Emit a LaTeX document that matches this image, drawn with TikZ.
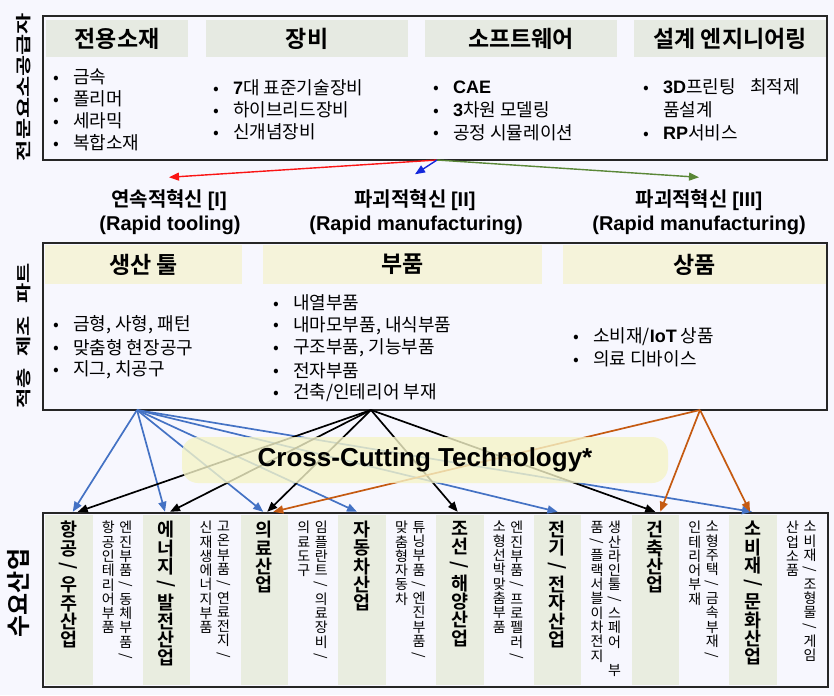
\documentclass[tikz,border=0pt]{standalone}
\usepackage{fontspec}
\setmainfont{Noto Sans CJK KR}[BoldFont={Noto Sans CJK KR Bold}]
\newfontfamily\latinfont{Liberation Sans}
\usepackage{tikz}
\usetikzlibrary{arrows.meta,calc}

\definecolor{pagebg}{RGB}{247,247,254}
\definecolor{hdrgray}{RGB}{230,234,226}
\definecolor{hdryellow}{RGB}{245,243,218}
\definecolor{colgray}{RGB}{233,237,224}
\definecolor{bandyellow}{RGB}{245,244,200}
\definecolor{arrblue}{RGB}{68,114,196}
\definecolor{arrorange}{RGB}{197,90,17}
\definecolor{arrgreen}{RGB}{90,135,55}
\definecolor{arrred}{RGB}{250,20,20}
\definecolor{arrdblue}{RGB}{20,40,220}

\newcommand{\lat}[1]{{\latinfont\bfseries #1}}
\newcommand{\itm}[1]{\makebox[20pt][l]{\raisebox{0.5pt}{\fontsize{17}{17}\selectfont •}}#1}
% stacked (vertical) writing
\newcommand{\vchar}[1]{\hbox to 1.1em{\hss\ifx/#1\raisebox{0.08em}{\rotatebox[origin=c]{-90}{/}}\else\ifx~#1\else#1\fi\fi\hss}}
\def\vcharloop#1{\ifx\relax#1\else\vchar{#1}\expandafter\vcharloop\fi}
\newcommand{\vtext}[2]{\vbox{\baselineskip=#1\lineskiplimit=-50pt\relax\expandafter\vcharloop#2\relax}}

\begin{document}
\begin{tikzpicture}[x=1pt,y=-1pt,
    box/.style={draw=black!85, line width=1.8pt},
    hdrA/.style={fill=hdrgray, inner sep=0pt, minimum height=37pt, font=\bfseries\fontsize{23}{26}\selectfont},
    hdrB/.style={fill=hdryellow, inner sep=0pt, minimum height=39pt, font=\bfseries\fontsize{23}{26}\selectfont},
    item/.style={anchor=west, inner sep=0pt, font=\fontsize{18}{22}\selectfont},
    side/.style={rotate=90, inner sep=0pt, font=\bfseries\fontsize{23}{26}\selectfont},
    innov/.style={inner sep=0pt, font=\bfseries\fontsize{20}{24}\selectfont},
    conn/.style={line width=1.7pt, -{Triangle[length=10pt,width=8pt]}},
    maincol/.style={fill=colgray, inner sep=0pt, minimum width=47.5pt, minimum height=170pt},
    maintxt/.style={anchor=north, inner sep=0pt, font=\bfseries\fontsize{18.5}{18.5}\selectfont},
    subtxt/.style={anchor=north, inner sep=0pt, font=\fontsize{14}{14}\selectfont},
    band/.style={rounded corners=16pt, fill=bandyellow, fill opacity=0.8, text opacity=1,
      minimum width=486pt, minimum height=46pt, font=\latinfont\bfseries\fontsize{26}{30}\selectfont}
]
\useasboundingbox (0,0) rectangle (834,695);
\fill[pagebg] (0,0) rectangle (834,695);

% row titles
\node[side] (t1) at (24,87) {\scalebox{1}[0.68]{전문요소공급자}};
\node[side, font=\bfseries\fontsize{22}{26}\selectfont] (t2) at (24,336) {\scalebox{1}[0.7]{적층\hspace{12pt}제조\hspace{12pt}파트}};
\node[side, font=\bfseries\fontsize{24}{26}\selectfont] (t3) at (19,593) {수요산업};

% suppliers
\draw[box] (43,16) rectangle (827,160);
\node[hdrA, minimum width=142pt] (h1) at (117,38.5) {전용소재};
\node[hdrA, minimum width=202pt] (h2) at (307,38.5) {장비};
\node[hdrA, minimum width=192pt] (h3) at (521,38.5) {소프트웨어};
\node[hdrA, minimum width=192pt] (h4) at (730,38.5) {설계 엔지니어링};
\foreach \t [count=\i] in {금속,폴리머,세라믹,복합소재}
  \node[item] at (53,55+22*\i) {\itm{\t}};
\foreach \t [count=\i] in {\lat{7}대 표준기술장비,하이브리드장비,신개념장비}
  \node[item] at (213,66+22*\i) {\itm{\t}};
\foreach \t [count=\i] in {\lat{CAE},\lat{3}차원 모델링,공정 시뮬레이션}
  \node[item] at (433,65+22.5*\i) {\itm{\t}};
\node[item] at (643,87) {\itm{\lat{3D}프린팅\hspace{0.8em}최적제}};
\node[item] at (663,110) {품설계};
\node[item] at (643,133) {\itm{\lat{RP}서비스}};

% innovation types
\coordinate (sT) at (437,160);
\node[innov] (in1) at (169,200) {연속적혁신 \lat{[I]}};
\node[innov] at (170,225) {\lat{(Rapid tooling)}};
\node[innov] (in2) at (415,200) {파괴적혁신 \lat{[II]}};
\node[innov] at (416,225) {\lat{(Rapid manufacturing)}};
\node[innov] (in3) at (699,200) {파괴적혁신 \lat{[III]}};
\node[innov] at (699,225) {\lat{(Rapid manufacturing)}};
\draw[conn, line width=1.4pt, arrred] (sT) -- ([yshift=12pt]in1.north);
\draw[conn, line width=1.4pt, arrdblue] (sT) -- ([yshift=15pt]in2.north);
\draw[conn, line width=1.4pt, arrgreen] (sT) -- ([yshift=12pt]in3.north);

% additive manufacturing
\draw[box] (43,243) rectangle (827,410);
\node[hdrB, minimum width=197pt] (p1) at (143.5,264.5) {생산 툴};
\node[hdrB, minimum width=279pt] (p2) at (402.5,264.5) {부품};
\node[hdrB, minimum width=263pt] (p3) at (694.5,264.5) {상품};
\foreach \t [count=\i] in {{금형, 사형, 패턴},맞춤형 현장공구,{지그, 치공구}}
  \node[item] at (53,302.5+22.5*\i) {\itm{\t}};
\foreach \t [count=\i] in {내열부품,{내마모부품, 내식부품},{구조부품, 기능부품},전자부품,건축/인테리어 부재}
  \node[item] at (273,280.5+22.5*\i) {\itm{\t}};
\foreach \t [count=\i] in {소비재/\lat{IoT} 상품,의료 디바이스}
  \node[item] at (573,315+22*\i) {\itm{\t}};

% demand industries
\draw[box] (43,513) rectangle (828,687);
\foreach \mainT/\subR/\subL [count=\i] in {
    {항공/우주산업}/{엔진부품/동체부품/}/{항공인테리어부품},
    {에너지/발전산업}/{고온부품/연료전지/}/{신재생에너지부품},
    {의료산업}/{임플란트/의료장비/}/{의료도구},
    {자동차산업}/{튜닝부품/엔진부품/}/{맞춤형자동차},
    {조선/해양산업}/{엔진부품/프로펠러/}/{소형선박맞춤부품},
    {전기/전자산업}/{생산라인툴/스페어~부}/{품/플랙서블이차전지},
    {건축산업}/{소형주택/금속부재/}/{인테리어부재},
    {소비재/문화산업}/{소비재/조형물/게임}/{산업소품}} {
  \pgfmathsetmacro\cx{68.75+97.75*(\i-1)}
  \node[maincol] (m\i) at (\cx,600) {};
  \node[maintxt] at (\cx,521) {\vtext{18.3pt}{\mainT}};
  \node[subtxt] at (\cx+57,521) {\vtext{14.3pt}{\subR}};
  \node[subtxt] at (\cx+39.5,521) {\vtext{14.3pt}{\subL}};
}

% links
\coordinate (sB) at (137,410);
\coordinate (sK) at (371,410);
\coordinate (sO) at (700,410);
\foreach \k/\dx in {1/4,2/-1.5,3/-1,4/-5,6/0,8/-1}
  \draw[conn, arrblue] (sB) -- ([xshift=\dx pt, yshift=3pt]m\k.north);
\foreach \k/\dx in {1/9,2/3.5,3/3,5/-2,7/0}
  \draw[conn, black] (sK) -- ([xshift=\dx pt, yshift=3pt]m\k.north);
\foreach \k/\dx in {3/9,7/5,8/-3}
  \draw[conn, arrorange] (sO) -- ([xshift=\dx pt, yshift=3pt]m\k.north);

% cross-cutting band
\node[band] (cct) at (425,460) {Cross-Cutting Technology*};
\end{tikzpicture}
\end{document}
